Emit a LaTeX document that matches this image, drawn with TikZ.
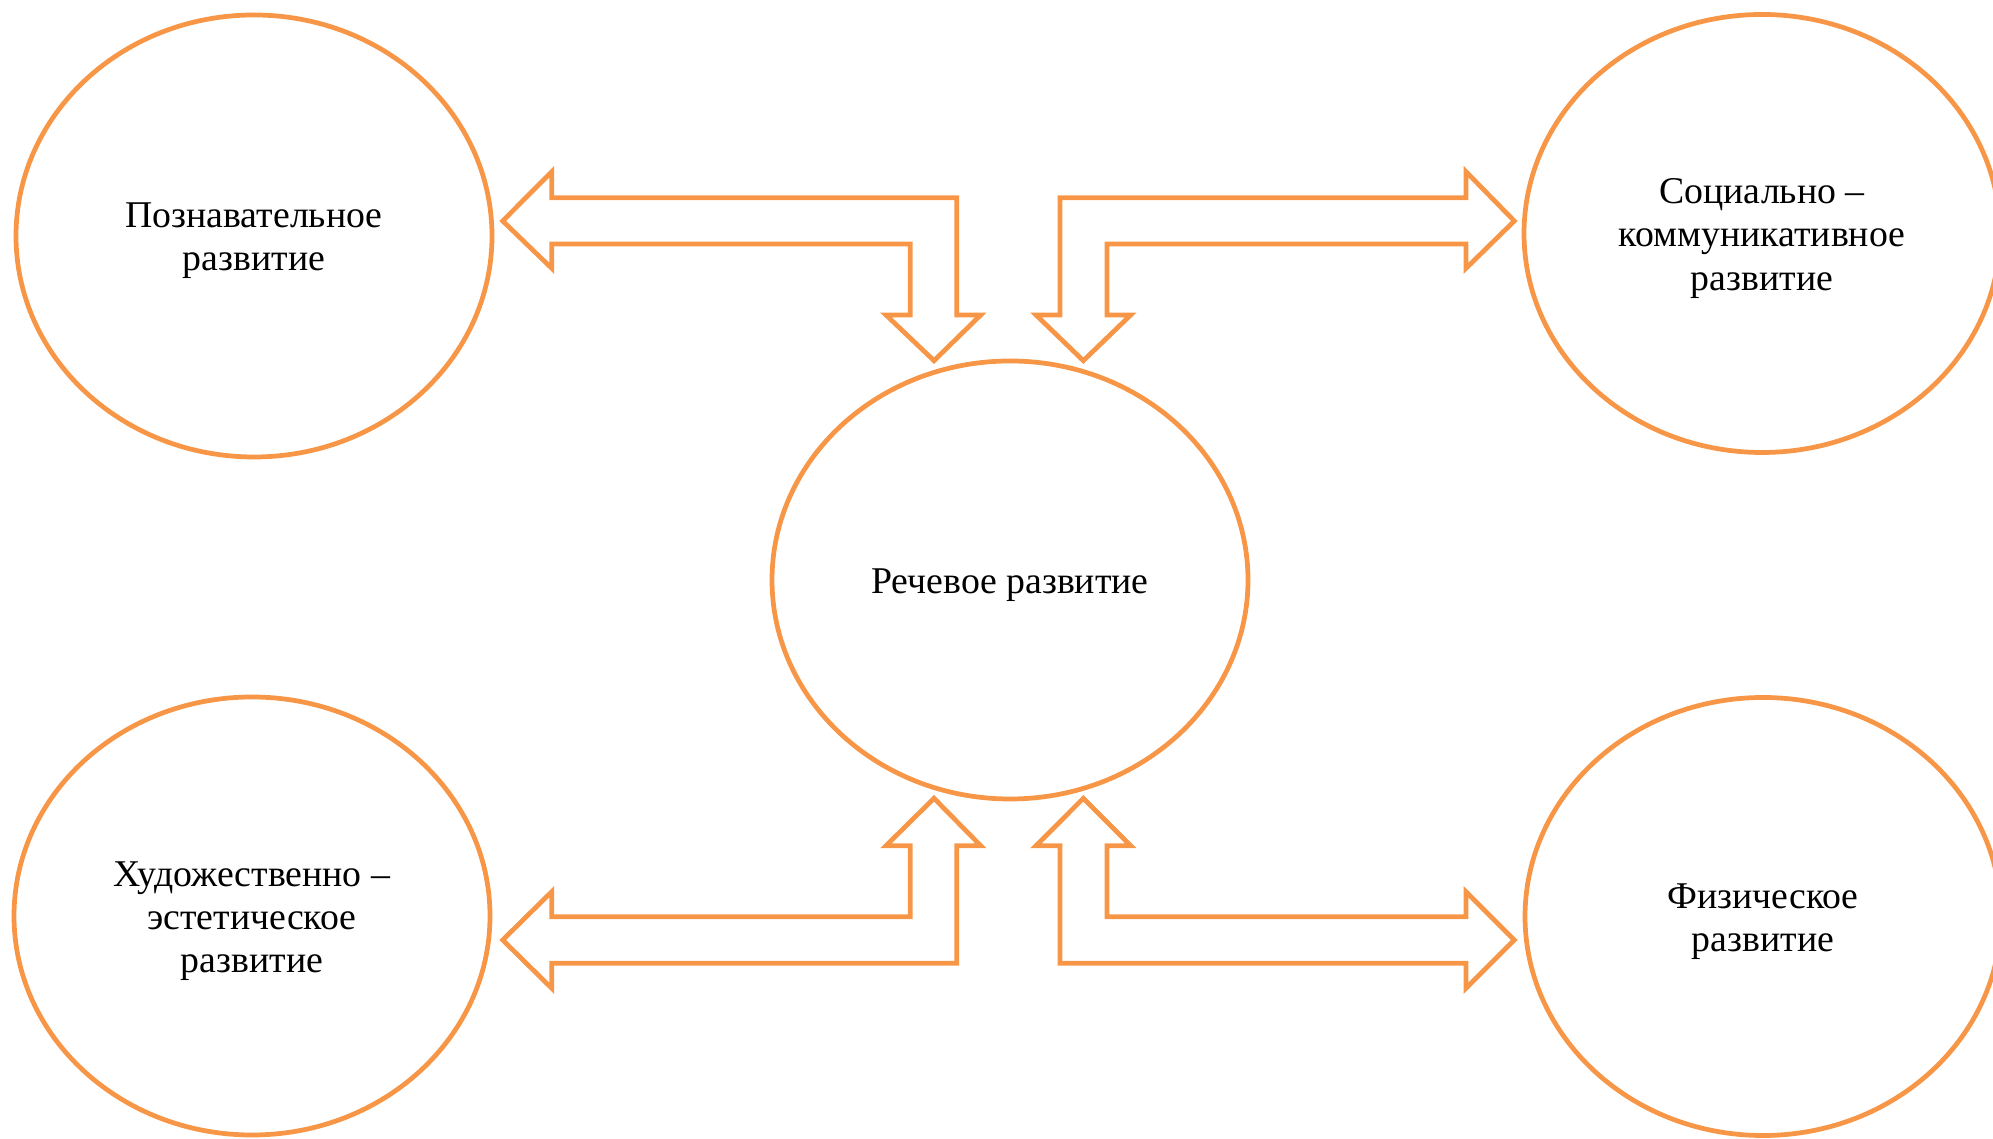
\documentclass[tikz,border=0pt]{standalone}
\usepackage{fontspec}
\setmainfont{Liberation Serif}
\usepackage{xcolor}
\usetikzlibrary{shapes,arrows,positioning,calc}
\definecolor{orangeline}{HTML}{F79646}

\begin{document}
\begin{tikzpicture}[scale=1.0]
  \useasboundingbox (0,0) rectangle (19.93,11.38);
  \tikzstyle{area}=[ellipse, draw=orangeline, line width=1.35pt, minimum width=4.76cm, minimum height=4.38cm, inner sep=0pt]
  \tikzstyle{caption}=[align=center, inner sep=0pt, font=\fontsize{10.75}{12.3}\selectfont]
  \tikzstyle{block}=[draw=orangeline, line width=1.35pt, line join=miter]

  % Области развития
  \node[area] (speech) at (10.10,5.58) {};
  \node[area, minimum height=4.42cm] (cogn) at (2.54,9.02) {};
  \node[area] (soc) at (17.62,9.045) {};
  \node[area] (art) at (2.52,2.22) {};
  \node[area] (phys) at (17.63,2.215) {};

  % Подписи
  \node[caption] (speechtxt) at ([yshift=-0.05cm]speech.center) {Речевое развитие};
  \node[caption] (cogntxt) at ([yshift=-0.05cm]cogn.center) {Познавательное\\развитие};
  \node[caption] (soctxt) at ([yshift=-0.05cm]soc.center) {Социально –\\коммуникативное\\развитие};
  \node[caption] (arttxt) at ([yshift=-0.05cm]art.center) {Художественно –\\эстетическое\\развитие};
  \node[caption] (phystxt) at ([yshift=-0.05cm]phys.center) {Физическое\\развитие};

  % Стрелка вверху слева
  \draw[block] (5.027,9.17) -- (5.517,9.663) -- (5.517,9.403) -- (9.567,9.403) -- (9.567,8.23)
    -- (9.807,8.23) -- (9.34,7.773) -- (8.86,8.23) -- (9.103,8.23) -- (9.103,8.94)
    -- (5.517,8.94) -- (5.517,8.697) -- cycle;

  % Стрелка вверху справа
  \draw[block] (15.143,9.17) -- (14.66,9.663) -- (14.66,9.403) -- (10.60,9.403) -- (10.60,8.23)
    -- (10.36,8.23) -- (10.833,7.773) -- (11.307,8.23) -- (11.07,8.23) -- (11.07,8.94)
    -- (14.66,8.94) -- (14.66,8.697) -- cycle;

  % Стрелка внизу слева
  \draw[block] (5.027,1.98) -- (5.517,2.463) -- (5.517,2.213) -- (9.103,2.213) -- (9.103,2.923)
    -- (8.86,2.923) -- (9.34,3.397) -- (9.807,2.923) -- (9.567,2.923) -- (9.567,1.747)
    -- (5.517,1.747) -- (5.517,1.497) -- cycle;

  % Стрелка внизу справа
  \draw[block] (15.143,1.98) -- (14.66,2.463) -- (14.66,2.213) -- (11.07,2.213) -- (11.07,2.923)
    -- (11.307,2.923) -- (10.833,3.397) -- (10.36,2.923) -- (10.60,2.923) -- (10.60,1.747)
    -- (14.66,1.747) -- (14.66,1.497) -- cycle;
\end{tikzpicture}
\end{document}
